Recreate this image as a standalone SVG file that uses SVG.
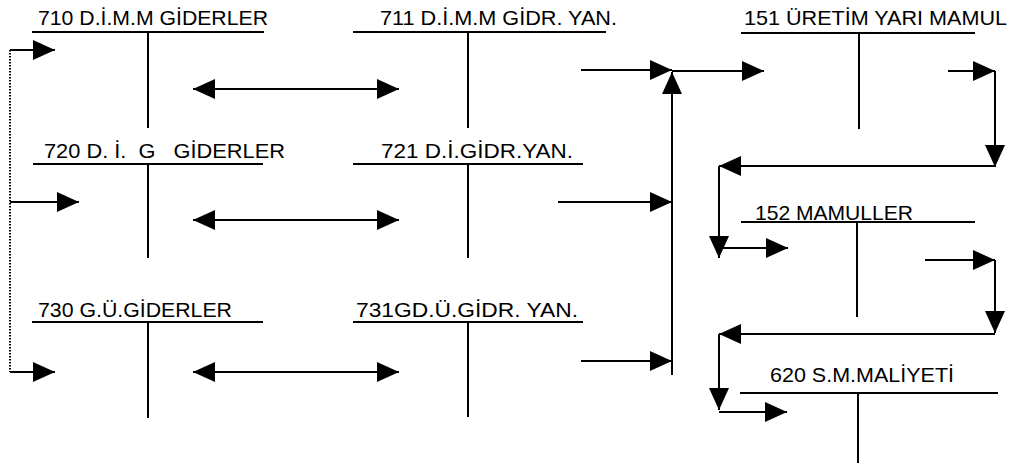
<svg xmlns="http://www.w3.org/2000/svg" width="1013" height="473" viewBox="0 0 1013 473">
<style>
text{font-family:"Liberation Sans",Arial,sans-serif;font-size:21px;fill:#000}
.t{stroke:#000;stroke-width:2;fill:none}
.c{stroke:#000;stroke-width:2;fill:none}
.d{stroke:#000;stroke-width:2;fill:none;stroke-dasharray:1.5 1.5}
</style>
<defs>
<marker id="ah" markerUnits="userSpaceOnUse" markerWidth="22" markerHeight="20" refX="22" refY="10" orient="auto-start-reverse" viewBox="0 0 22 20">
<path d="M0,0 L22,10 L0,20 z" fill="#000"/>
</marker>
</defs>
<rect width="1013" height="473" fill="#fff"/>
<g id="n710">
<text x="38" y="25" textLength="230" lengthAdjust="spacingAndGlyphs">710 D.İ.M.M GİDERLER</text>
<path class="t" d="M32,32 H264 M148,32 V128"/>
</g>
<g id="n711">
<text x="380" y="25" textLength="237" lengthAdjust="spacingAndGlyphs">711 D.İ.M.M GİDR. YAN.</text>
<path class="t" d="M353,32 H606 M468,32 V128"/>
</g>
<g id="n151">
<text x="744" y="25" textLength="263" lengthAdjust="spacingAndGlyphs">151 ÜRETİM YARI MAMUL</text>
<path class="t" d="M741,33 H975 M859,33 V129"/>
</g>
<g id="n720">
<text x="44" y="158" textLength="241" lengthAdjust="spacingAndGlyphs" xml:space="preserve">720 D. İ.  G   GİDERLER</text>
<path class="t" d="M33,164 H263 M148,164 V258"/>
</g>
<g id="n721">
<text x="381" y="158" textLength="192" lengthAdjust="spacingAndGlyphs">721 D.İ.GİDR.YAN.</text>
<path class="t" d="M353,164 H583 M468,164 V258"/>
</g>
<g id="n152">
<text x="755" y="220" textLength="158" lengthAdjust="spacingAndGlyphs">152 MAMULLER</text>
<path class="t" d="M741,222 H975 M857,222 V317"/>
</g>
<g id="n730">
<text x="38" y="317" textLength="194" lengthAdjust="spacingAndGlyphs">730 G.Ü.GİDERLER</text>
<path class="t" d="M32,322 H263 M148,322 V418"/>
</g>
<g id="n731">
<text x="356" y="317" textLength="222" lengthAdjust="spacingAndGlyphs">731GD.Ü.GİDR. YAN.</text>
<path class="t" d="M353,322 H583 M468,322 V417"/>
</g>
<g id="n620">
<text x="770" y="382" textLength="184" lengthAdjust="spacingAndGlyphs">620 S.M.MALİYETİ</text>
<path class="t" d="M740,393 H998 M858,393 V463"/>
</g>
<g id="connectors">
<path class="d" d="M10,50 V372"/>
<path class="c" d="M10,50 H55" marker-end="url(#ah)"/>
<path class="c" d="M10,202 H79" marker-end="url(#ah)"/>
<path class="c" d="M10,372 H55" marker-end="url(#ah)"/>
<path class="c" d="M193,89 H399" marker-start="url(#ah)" marker-end="url(#ah)"/>
<path class="c" d="M193,220 H399" marker-start="url(#ah)" marker-end="url(#ah)"/>
<path class="c" d="M193,372 H399" marker-start="url(#ah)" marker-end="url(#ah)"/>
<path class="c" d="M581,70 H672" marker-end="url(#ah)"/>
<path class="c" d="M558,202 H672" marker-end="url(#ah)"/>
<path class="c" d="M581,361 H672" marker-end="url(#ah)"/>
<path class="c" d="M672,375 V72" marker-end="url(#ah)"/>
<path class="c" d="M672,71 H764" marker-end="url(#ah)"/>
<path class="c" d="M948,71 H995" marker-end="url(#ah)"/>
<path class="c" d="M995,71 V167" marker-end="url(#ah)"/>
<path class="c" d="M995,166 H719" marker-end="url(#ah)"/>
<path class="c" d="M719,166 V258" marker-end="url(#ah)"/>
<path class="c" d="M719,248 H788" marker-end="url(#ah)"/>
<path class="c" d="M925,260 H995" marker-end="url(#ah)"/>
<path class="c" d="M995,260 V333" marker-end="url(#ah)"/>
<path class="c" d="M995,334 H719" marker-end="url(#ah)"/>
<path class="c" d="M719,334 V410" marker-end="url(#ah)"/>
<path class="c" d="M719,412 H787" marker-end="url(#ah)"/>
</g>
</svg>
